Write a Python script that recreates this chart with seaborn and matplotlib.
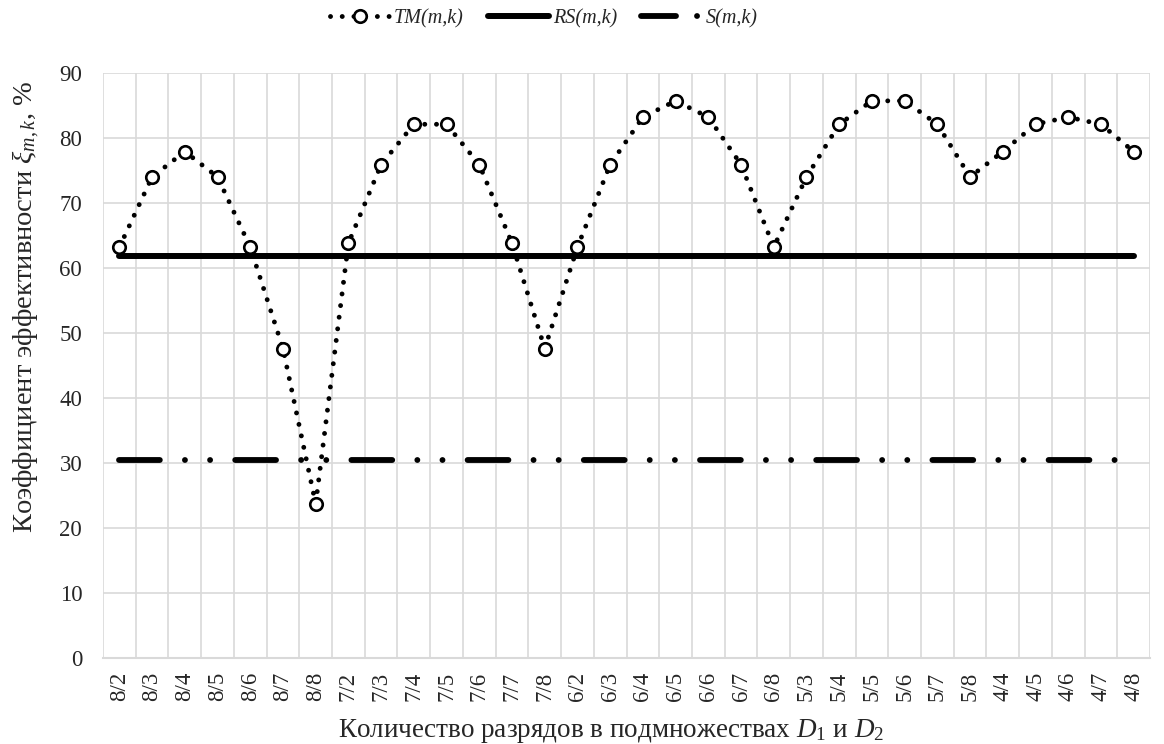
import matplotlib
matplotlib.use("Agg")
import matplotlib.pyplot as plt
from matplotlib.lines import Line2D
import seaborn as sns
import pandas as pd
import numpy as np

categories = ["8/2", "8/3", "8/4", "8/5", "8/6", "8/7", "8/8",
              "7/2", "7/3", "7/4", "7/5", "7/6", "7/7", "7/8",
              "6/2", "6/3", "6/4", "6/5", "6/6", "6/7", "6/8",
              "5/3", "5/4", "5/5", "5/6", "5/7", "5/8",
              "4/4", "4/5", "4/6", "4/7", "4/8"]
tm_values = [63.2, 74.0, 77.9, 74.0, 63.2, 47.6, 23.7,
             63.8, 75.9, 82.1, 82.1, 75.9, 63.8, 47.6,
             63.2, 75.9, 83.2, 85.7, 83.2, 75.9, 63.2,
             74.0, 82.1, 85.7, 85.7, 82.1, 74.0,
             77.9, 82.1, 83.2, 82.1, 77.9]
rs_value = 61.8
s_value = 30.5
y_ticks = [0, 10, 20, 30, 40, 50, 60, 70, 80, 90]

sns.set_theme(style="white")
plt.rcParams['font.family'] = ['Liberation Serif', 'DejaVu Serif']
plt.rcParams['mathtext.fontset'] = 'custom'
plt.rcParams['mathtext.rm'] = 'Liberation Serif'
plt.rcParams['mathtext.it'] = 'Liberation Serif:italic'

df = pd.DataFrame({
    "x": np.arange(len(categories)),
    "TM": tm_values,
    "RS": [rs_value] * len(categories),
    "S": [s_value] * len(categories),
})

fig = plt.figure(figsize=(11.64, 7.44), dpi=100)
ax = fig.add_axes([0.0885, 0.1156, 0.8995, 0.7864])

sns.lineplot(data=df, x="x", y="S", ax=ax, color="black", linewidth=4.2,
             label="S(m,k)")
sns.lineplot(data=df, x="x", y="RS", ax=ax, color="black", linewidth=4.3,
             label="RS(m,k)")
sns.lineplot(data=df, x="x", y="TM", ax=ax, color="black", linewidth=3.5,
             marker="o", markersize=9, markerfacecolor="white",
             markeredgecolor="black", markeredgewidth=1.9, label="TM(m,k)")

lines = ax.get_lines()
s_line, rs_line, tm_line = lines[0], lines[1], lines[2]
s_line.set_dashes([7.0, 4.3, 0.01, 4.3, 0.01, 4.3])
s_line.set_dash_capstyle("round")
tm_line.set_dashes([0.01, 2.4])
tm_line.set_dash_capstyle("round")

ax.set_xlim(-0.5, len(categories) - 0.5)
ax.set_ylim(0, 90)
ax.set_yticks(y_ticks)
ax.set_xticks(np.arange(len(categories)))
ax.set_xticklabels(categories, rotation=90, fontsize=16.5)
ax.tick_params(axis='y', labelsize=16.5, length=0, pad=15)
ax.tick_params(axis='x', length=0, pad=10)
ax.set_xticks(np.arange(len(categories) + 1) - 0.5, minor=True)
ax.tick_params(axis='x', which='minor', length=0)

ax.grid(False)
ax.yaxis.grid(True, color="#d9d9d9", linewidth=1.2)
ax.xaxis.grid(True, which="minor", color="#d9d9d9", linewidth=1.2)
ax.set_axisbelow(True)
for side in ["top", "right", "left"]:
    ax.spines[side].set_visible(False)
ax.spines["bottom"].set_color("#d9d9d9")
ax.spines["bottom"].set_linewidth(1.5)

ax.set_xlabel(r"Количество разрядов в подмножествах $D_1$ и $D_2$", fontsize=19.5)
ax.set_ylabel(r"Коэффициент эффективности $\xi_{m,k}$, %", fontsize=20.5)
ax.xaxis.set_label_coords(0.485, -0.100)
ax.yaxis.set_label_coords(-0.058, 0.60)

if ax.get_legend():
    ax.get_legend().remove()
s_handle = Line2D([], [], color="black", linewidth=4.2,
                  dashes=[6.0, 3.6, 0.01, 10.0], dash_capstyle="round")
fig.legend([tm_line, rs_line, s_handle], ["TM(m,k)", "RS(m,k)", "S(m,k)"],
           loc="center", bbox_to_anchor=(0.467, 0.975), ncol=3, frameon=False,
           prop={"family": "Liberation Serif", "style": "italic", "size": 14.5},
           handlelength=3.0, handletextpad=0.2, columnspacing=1.2)

fig.savefig("out.png", dpi=100)
